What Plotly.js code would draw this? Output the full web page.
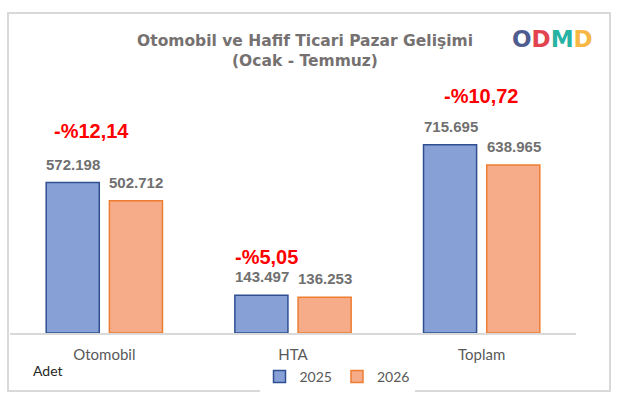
<!DOCTYPE html>
<html><head><meta charset="utf-8">
<script src="https://cdn.plot.ly/plotly-3.0.1.min.js"></script>
<style>body{margin:0;background:#fff}#c{width:624px;height:405px}</style>
</head><body><div id="c"></div>
<script>
const categories = ["Otomobil", "HTA", "Toplam"];
const series2025 = [572198, 143497, 715695];
const series2026 = [502712, 136253, 638965];
const seriesNames = ["2025", "2026"];

// layout helpers (pixel -> paper), plot area: x 10..576, y 70..333
const L = 10, R = 576, T = 70, B = 333;
const px = v => (v - L) / (R - L);
const py = v => (B - v) / (B - T);

const fmtNum = v => v.toLocaleString('de-DE');
const pct = series2025.map((v, i) => (series2026[i] - v) / v * 100);
const fmtPct = p => '-%' + Math.abs(p).toFixed(2).replace('.', ',');

const blueFill = '#87a0d6', blueLine = '#2f4f91';
const orFill = '#f6ab89', orLine = '#ed7d31';

const traces = [
  {type: 'bar', name: seriesNames[0], x: categories, y: series2025,
   marker: {color: blueFill, line: {color: blueLine, width: 1.5}}, hoverinfo: 'none'},
  {type: 'bar', name: seriesNames[1], x: categories, y: series2026,
   marker: {color: orFill, line: {color: orLine, width: 1.5}}, hoverinfo: 'none'}
];

const annotations = [];
const valFont = {family: 'Liberation Sans, Arial', size: 15, color: '#707070'};
categories.forEach((c, i) => {
  annotations.push({x: c, y: series2025[i], xref: 'x', yref: 'y', text: '<b>' + fmtNum(series2025[i]) + '</b>',
    showarrow: false, yanchor: 'bottom', xshift: -31, yshift: 8, font: valFont});
  annotations.push({x: c, y: series2026[i], xref: 'x', yref: 'y', text: '<b>' + fmtNum(series2026[i]) + '</b>',
    showarrow: false, yanchor: 'bottom', xshift: 32, yshift: 8, font: valFont});
});
// percentage change labels
const pctShift = [[-13, 39], [-27, 25], [0, 36]];
categories.forEach((c, i) => {
  annotations.push({x: c, y: series2025[i], xref: 'x', yref: 'y', text: '<b>' + fmtPct(pct[i]) + '</b>',
    showarrow: false, yanchor: 'bottom', xshift: pctShift[i][0], yshift: pctShift[i][1],
    font: {family: 'Liberation Sans, Arial', size: 20, color: '#ff0000'}});
});
// unit label
annotations.push({x: px(31), y: py(370), xref: 'paper', yref: 'paper', text: 'Adet', showarrow: false,
  xanchor: 'left', yanchor: 'middle', font: {family: 'Lato, sans-serif', size: 14, color: '#262626'}});
// logo
const logoLetters = [['O', '#4e5c8f'], ['D', '#e2434f'], ['M', '#26b3a3'], ['D', '#f7b744']];
annotations.push({x: px(552), y: py(39), xref: 'paper', yref: 'paper',
  text: logoLetters.map(l => '<span style="color:' + l[1] + '"><b>' + l[0] + '</b></span>').join(''),
  showarrow: false, xanchor: 'center', yanchor: 'middle',
  font: {family: 'DejaVu Sans', size: 23, color: '#4e5c8f'}});

const layout = {
  width: 624, height: 405,
  margin: {l: L, r: 624 - R, t: T, b: 405 - B, pad: 0},
  paper_bgcolor: '#ffffff', plot_bgcolor: '#ffffff',
  title: {text: '<b>Otomobil ve Hafif Ticari Pazar Gelişimi<br>(Ocak - Temmuz)</b>',
    x: 305 / 624, xanchor: 'center', y: 1 - 46 / 405, yanchor: 'middle',
    font: {family: 'DejaVu Sans', size: 15.5, color: '#767171'}},
  barmode: 'group', bargap: 0.33, bargroupgap: 0.16,
  xaxis: {showline: true, linecolor: '#d9d9d9', linewidth: 1.5, ticks: '', showgrid: false,
    ticklabelstandoff: 7,
    tickfont: {family: 'Lato, sans-serif', size: 15, color: '#595959'}, fixedrange: true},
  yaxis: {visible: false, range: [0, 1000000], showgrid: false, zeroline: false, fixedrange: true},
  showlegend: true,
  legend: {orientation: 'h', x: px(337), xanchor: 'center', y: py(377), yanchor: 'middle',
    font: {family: 'Lato, sans-serif', size: 14, color: '#595959'}, itemwidth: 30, traceorder: 'normal'},
  shapes: [{type: 'rect', xref: 'paper', yref: 'paper', x0: px(8), x1: px(610), y0: py(391), y1: py(13),
    line: {color: '#d9d9d9', width: 2}, fillcolor: 'rgba(0,0,0,0)', layer: 'below'}],
  annotations: annotations
};

Plotly.newPlot('c', traces, layout, {displayModeBar: false, staticPlot: true});
</script></body></html>
